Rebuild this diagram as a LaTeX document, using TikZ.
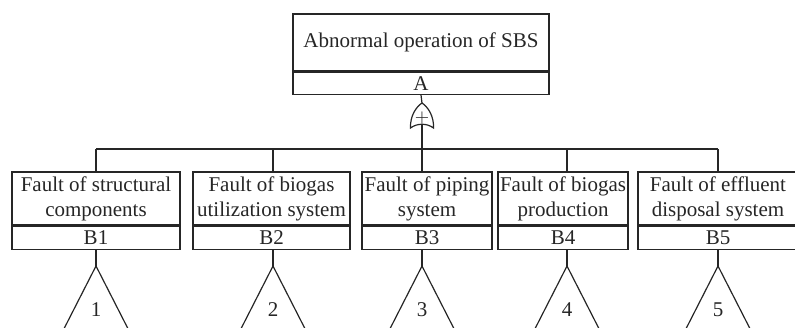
\documentclass[tikz,border=0pt]{standalone}
\usepackage{fontspec}
\setmainfont{Liberation Serif}
\tikzset{
  evbox/.style={draw, line width=0.7pt, align=center, inner xsep=0.5pt, inner ysep=0pt},
  idbox/.style={draw, line width=0.7pt, inner sep=0pt, anchor=north, text depth=-1pt},
  link/.style={line width=0.6pt}
}
\begin{document}
\begin{tikzpicture}[x=0.5pt,y=-0.5pt,font={\fontsize{10.5pt}{12.5pt}\selectfont},color=black!85]
\useasboundingbox (0,0) rectangle (795,327);
\clip (0,0) rectangle (795,327);
% top event
\node[evbox,minimum width=128pt,minimum height=28.5pt] (top) at (421,42.5) {Abnormal operation of SBS};
\node[idbox,minimum width=128pt,minimum height=11pt] (topid) at (top.south) {A};
% or gate
\node[inner sep=0pt,minimum width=11.5pt,minimum height=13pt,font=\small] (gate) at (422,116) {};
\node[inner sep=0pt,font=\small] (plus) at (422,118) {$+$};
\draw[link] ([shift={(-11.5,12)}]gate.center) .. controls ([shift={(-12,0)}]gate.center) and ([shift={(-6,-9)}]gate.center) .. ([shift={(0,-13)}]gate.center)
  .. controls ([shift={(6,-9)}]gate.center) and ([shift={(12,0)}]gate.center) .. ([shift={(11.5,12)}]gate.center)
  .. controls ([shift={(5,7)}]gate.center) and ([shift={(-5,7)}]gate.center) .. cycle;
\draw[link] (topid.south) -- ([yshift=-0.3pt]gate.north);
% basic events
\node[evbox,minimum width=84pt,minimum height=26.5pt] (b1) at (96,198.5) {Fault of structural\\components};
\node[evbox,minimum width=78.5pt,minimum height=26.5pt] (b2) at (271.5,198.5) {Fault of biogas\\utilization system};
\node[evbox,minimum width=65pt,minimum height=26.5pt] (b3) at (427,198.5) {Fault of piping\\system};
\node[evbox,minimum width=65pt,minimum height=26.5pt] (b4) at (563,198.5) {Fault of biogas\\production};
\node[evbox,minimum width=80pt,minimum height=26.5pt] (b5) at (718,198.5) {Fault of effluent\\disposal system};
\node[idbox,minimum width=84pt,minimum height=11.5pt] (b1id) at (b1.south) {B1};
\node[idbox,minimum width=78.5pt,minimum height=11.5pt] (b2id) at (b2.south) {B2};
\node[idbox,minimum width=65pt,minimum height=11.5pt] (b3id) at (b3.south) {B3};
\node[idbox,minimum width=65pt,minimum height=11.5pt] (b4id) at (b4.south) {B4};
\node[idbox,minimum width=80pt,minimum height=11.5pt] (b5id) at (b5.south) {B5};
% transfer triangles
\coordinate (p1) at (96,266);
\coordinate (p2) at (273,266);
\coordinate (p3) at (422,266);
\coordinate (p4) at (567,266);
\coordinate (p5) at (718,266);
\coordinate (busl) at (96,149);
\coordinate (busr) at (718,149);
\draw[link] (busl) -- (busr);
\draw[link] (plus.south) -- (gate |- busl);
\foreach \i in {1,...,5}{
  \draw[link] (p\i |- busl) -- (p\i |- b\i.north);
  \draw[link] (p\i |- b\i id.south) -- (p\i);
  \draw[link] ([shift={(-50,98)}]p\i) -- (p\i) -- ([shift={(50,98)}]p\i);
  \node (n\i) at ([yshift=-22pt]p\i) {\i};
}
\end{tikzpicture}
\end{document}
